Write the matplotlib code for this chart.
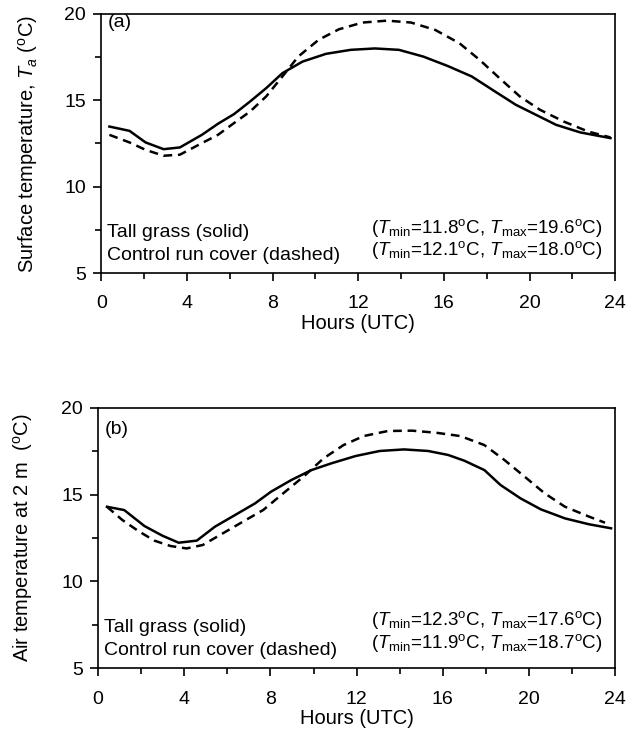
import matplotlib
matplotlib.use("Agg")
import matplotlib.pyplot as plt
from matplotlib.ticker import MultipleLocator

plt.rcParams['font.family'] = ['Liberation Sans', 'DejaVu Sans']
plt.rcParams['mathtext.fontset'] = 'custom'
plt.rcParams['mathtext.rm'] = 'Liberation Sans'
plt.rcParams['mathtext.it'] = 'Liberation Sans:italic'

# panel (a): surface temperature
a_solid_h = [0.38, 1.32, 2.07, 2.91, 3.67, 4.7, 5.45, 6.2, 6.95, 7.7, 8.46, 9.4, 10.5,
             11.65, 12.78, 13.9, 15.04, 16.17, 17.3, 18.4, 19.36, 20.3, 21.24, 22.37, 23.78]
a_solid_t = [13.48, 13.23, 12.56, 12.17, 12.27, 13.0, 13.64, 14.2, 14.93, 15.7, 16.57, 17.24, 17.69,
             17.92, 18.0, 17.92, 17.53, 16.99, 16.38, 15.5, 14.74, 14.16, 13.58, 13.14, 12.81]
a_dash_h = [0.38, 1.32, 2.07, 2.91, 3.67, 4.7, 5.45, 6.2, 6.95, 7.7, 8.46, 9.2, 10.15,
            11.1, 12.2, 13.35, 14.47, 15.6, 16.73, 17.67, 18.6, 19.55, 20.49, 21.6, 22.74, 23.78]
a_dash_t = [13.0, 12.56, 12.13, 11.79, 11.85, 12.52, 13.0, 13.68, 14.35, 15.22, 16.38, 17.53, 18.5,
            19.11, 19.5, 19.61, 19.5, 19.07, 18.3, 17.34, 16.28, 15.22, 14.45, 13.77, 13.19, 12.85]

# panel (b): air temperature at 2 m
b_solid_h = [0.41, 1.21, 2.15, 2.99, 3.74, 4.58, 5.42, 6.35, 7.28, 8.03, 8.97, 9.9, 10.83,
             11.95, 13.07, 14.2, 15.32, 16.25, 17.0, 17.93, 18.68, 19.61, 20.55, 21.67, 22.79, 23.81]
b_solid_t = [14.3, 14.11, 13.19, 12.63, 12.23, 12.35, 13.15, 13.82, 14.49, 15.17, 15.84, 16.41, 16.8,
             17.22, 17.51, 17.6, 17.51, 17.28, 16.95, 16.41, 15.55, 14.78, 14.15, 13.63, 13.29, 13.06]
b_dash_h = [0.41, 1.12, 1.87, 2.61, 3.36, 4.11, 4.86, 5.79, 6.72, 7.66, 8.59, 9.53, 10.46,
            11.39, 12.33, 13.45, 14.57, 15.69, 16.81, 17.93, 18.86, 19.8, 20.73, 21.67, 22.79, 23.53]
b_dash_t = [14.3, 13.54, 12.9, 12.35, 12.04, 11.9, 12.1, 12.77, 13.44, 14.11, 15.07, 16.03, 17.08,
            17.85, 18.37, 18.66, 18.68, 18.56, 18.37, 17.85, 16.99, 16.03, 15.07, 14.3, 13.73, 13.38]

fig = plt.figure(figsize=(6.29, 7.32), dpi=100)
ax1 = fig.add_axes([0.161, 0.627, 0.817, 0.354])
ax2 = fig.add_axes([0.156, 0.087, 0.822, 0.356])

FS = 14


def style_axis(ax):
    ax.set_xlim(0, 24)
    ax.set_ylim(5, 20)
    ax.xaxis.set_major_locator(MultipleLocator(4))
    ax.xaxis.set_minor_locator(MultipleLocator(2))
    ax.yaxis.set_major_locator(MultipleLocator(5))
    ax.yaxis.set_minor_locator(MultipleLocator(2.5))
    ax.tick_params(which='both', direction='out', top=False, right=False,
                   labelsize=14, width=1.2)
    ax.tick_params(which='major', length=6)
    ax.tick_params(which='minor', length=4)
    ax.tick_params(axis='x', which='major', pad=10)
    ax.tick_params(axis='y', which='major', pad=5)
    for s in ax.spines.values():
        s.set_linewidth(1.2)
    ax.set_xlabel("Hours (UTC)", fontsize=14.5, labelpad=1)


def add_texts(ax, tag, tag_y, r1, r2, ry1, ry2):
    ax.text(0.012, tag_y, tag, transform=ax.transAxes, fontsize=FS, va='center')
    ax.text(0.012, 0.155, "Tall grass (solid)", transform=ax.transAxes, fontsize=FS, va='center')
    ax.text(0.012, 0.067, "Control run cover (dashed)", transform=ax.transAxes, fontsize=FS, va='center')
    ax.text(0.975, ry1, r1, transform=ax.transAxes, fontsize=13.5, va='center', ha='right')
    ax.text(0.975, ry2, r2, transform=ax.transAxes, fontsize=13.5, va='center', ha='right')


ax1.plot(a_solid_h, a_solid_t, color='black', lw=1.8)
ax1.plot(a_dash_h, a_dash_t, color='black', lw=1.8, dashes=(3.5, 2.3))
style_axis(ax1)
ax1.set_ylabel(r"Surface temperature, $T_a$ ($^{\rm o}$C)", fontsize=14.5)
ax1.yaxis.set_label_coords(-0.119, 0.5)
add_texts(ax1, "(a)", 0.965,
          r"($T_{\rm min}$=11.8$^{\rm o}$C, $T_{\rm max}$=19.6$^{\rm o}$C)",
          r"($T_{\rm min}$=12.1$^{\rm o}$C, $T_{\rm max}$=18.0$^{\rm o}$C)",
          0.175, 0.088)

ax2.plot(b_solid_h, b_solid_t, color='black', lw=1.8)
ax2.plot(b_dash_h, b_dash_t, color='black', lw=1.8, dashes=(3.5, 2.3))
style_axis(ax2)
ax2.set_ylabel(r"Air temperature at 2 m  ($^{\rm o}$C)", fontsize=14.5)
ax2.yaxis.set_label_coords(-0.122, 0.5)
add_texts(ax2, "(b)", 0.915,
          r"($T_{\rm min}$=12.3$^{\rm o}$C, $T_{\rm max}$=17.6$^{\rm o}$C)",
          r"($T_{\rm min}$=11.9$^{\rm o}$C, $T_{\rm max}$=18.7$^{\rm o}$C)",
          0.185, 0.096)

fig.savefig("out.png", dpi=100)
